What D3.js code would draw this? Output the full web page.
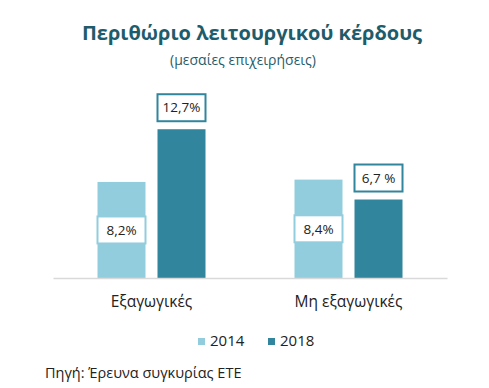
<!DOCTYPE html>
<html>
<head>
<meta charset="utf-8">
<script src="https://cdn.jsdelivr.net/npm/d3@7"></script>
<style>
  body { margin: 0; background: #fff; }
  text { font-family: "Open Sans", "Noto Sans", sans-serif; }
</style>
</head>
<body>
<svg width="489" height="388"></svg>
<script>
// categories and series
const categories = ['Εξαγωγικές', 'Μη εξαγωγικές']
const years = ['2014', '2018']
const values2014 = [8.2, 8.4]
const values2018 = [12.7, 6.7]
const labels2014 = ['8,2%', '8,4%']
const labels2018 = ['12,7%', '6,7 %']
const colors = { '2014': '#92cddd', '2018': '#31859c' }

const svg = d3.select('svg')

let data = categories.map(function(c, i) {
    return { cat: c, series: [
        { year: '2014', value: values2014[i], label: labels2014[i] },
        { year: '2018', value: values2018[i], label: labels2018[i] }
    ]}
})

let x0 = d3.scaleBand()
    .domain(categories)
    .range([53, 447])
let x1 = d3.scaleBand()
    .domain(years)
    .range([x0.bandwidth() / 2 - 54, x0.bandwidth() / 2 + 54])
    .paddingInner(0.2)
let y = d3.scaleLinear()
    .domain([0, 14])
    .range([278, 114])

// title
svg.append('text')
    .attr('x', 252).attr('y', 40)
    .attr('text-anchor', 'middle')
    .attr('fill', '#1f5c6b')
    .style('font-weight', 700)
    .style('font-size', '20px')
    .text('Περιθώριο λειτουργικού κέρδους')
svg.append('text')
    .attr('x', 243).attr('y', 65)
    .attr('text-anchor', 'middle')
    .attr('fill', '#1f5c6b')
    .style('font-size', '14px')
    .text('(μεσαίες επιχειρήσεις)')

let groups = svg.selectAll('.grp')
    .data(data)
    .enter().append('g')
    .attr('class', 'grp')
    .attr('transform', function(d) { return 'translate(' + x0(d.cat) + ',0)' })

groups.selectAll('rect.bar')
    .data(function(d) { return d.series })
    .enter().append('rect')
    .attr('class', 'bar')
    .attr('x', function(d) { return x1(d.year) })
    .attr('width', x1.bandwidth())
    .attr('y', function(d) { return y(d.value) })
    .attr('height', function(d) { return y(0) - y(d.value) })
    .attr('fill', function(d) { return colors[d.year] })

// axis line
svg.append('g')
    .attr('transform', 'translate(0,' + y(0) + ')')
    .call(d3.axisBottom(x0).tickSize(0).tickPadding(18))
    .call(function(g) {
        g.select('.domain').attr('stroke', '#d9d9d9').attr('stroke-width', 1.5)
        g.selectAll('text')
            .style('font-size', '15.5px')
            .attr('fill', '#222')
            .style('font-family', '"Open Sans", sans-serif')
    })

// value labels in boxes
let boxW = 48, boxH = 27
let lbl = groups.selectAll('g.lbl')
    .data(function(d) { return d.series })
    .enter().append('g')
    .attr('class', 'lbl')
    .attr('transform', function(d) {
        let cx = x1(d.year) + x1.bandwidth() / 2
        let cy = d.year === '2014' ? (y(d.value) + y(0)) / 2 : y(d.value) - 8 - boxH / 2
        return 'translate(' + cx + ',' + cy + ')'
    })
lbl.append('rect')
    .attr('x', -boxW / 2).attr('y', -boxH / 2)
    .attr('width', boxW).attr('height', boxH)
    .attr('fill', '#fff')
    .attr('stroke', function(d) { return colors[d.year] })
    .attr('stroke-width', 2)
lbl.append('text')
    .attr('text-anchor', 'middle')
    .attr('dy', '0.35em')
    .attr('fill', '#222')
    .style('font-size', '13.5px')
    .text(function(d) { return d.label })

// legend
let legend = svg.selectAll('.leg')
    .data(years)
    .enter().append('g')
    .attr('class', 'leg')
    .attr('transform', function(d, i) { return 'translate(' + (198 + i * 70) + ',338)' })
legend.append('rect')
    .attr('width', 7).attr('height', 7)
    .attr('fill', function(d) { return colors[d] })
legend.append('text')
    .attr('x', 12).attr('y', 8)
    .attr('fill', '#222')
    .style('font-size', '15px')
    .text(function(d) { return d })

// source
svg.append('text')
    .attr('x', 45).attr('y', 378)
    .attr('fill', '#222')
    .style('font-size', '14.5px')
    .text('Πηγή: Έρευνα συγκυρίας ΕΤΕ')
</script>
</body>
</html>
